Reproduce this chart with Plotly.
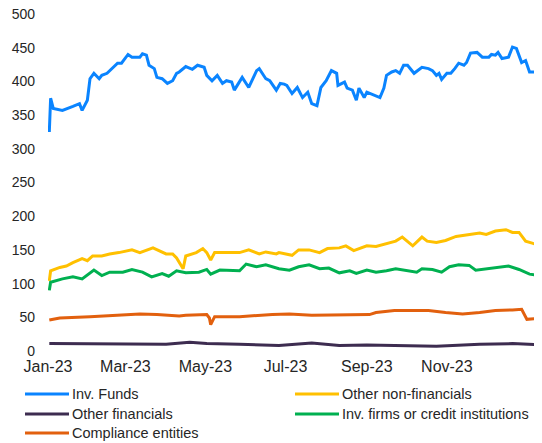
import plotly.graph_objects as go

# ---------------- data ----------------
inv_funds_dates = ["2023-01-02", "2023-01-03", "2023-01-05", "2023-01-12", "2023-01-20", "2023-01-25",
    "2023-01-27", "2023-01-31", "2023-02-02", "2023-02-05", "2023-02-09", "2023-02-11", "2023-02-15",
    "2023-02-18", "2023-02-23", "2023-02-26", "2023-03-03", "2023-03-06", "2023-03-12", "2023-03-14",
    "2023-03-17", "2023-03-19", "2023-03-23", "2023-03-25", "2023-03-29", "2023-04-02", "2023-04-06",
    "2023-04-09", "2023-04-11", "2023-04-16", "2023-04-21", "2023-04-25", "2023-04-30", "2023-05-02",
    "2023-05-06", "2023-05-10", "2023-05-14", "2023-05-17", "2023-05-21", "2023-05-23", "2023-05-27",
    "2023-05-29", "2023-06-03", "2023-06-09", "2023-06-11", "2023-06-16", "2023-06-19", "2023-06-24",
    "2023-06-27", "2023-06-30", "2023-07-02", "2023-07-06", "2023-07-10", "2023-07-14", "2023-07-18",
    "2023-07-21", "2023-07-25", "2023-07-28", "2023-08-01", "2023-08-05", "2023-08-09", "2023-08-10",
    "2023-08-15", "2023-08-17", "2023-08-21", "2023-08-24", "2023-08-26", "2023-08-30", "2023-09-01",
    "2023-09-07", "2023-09-11", "2023-09-14", "2023-09-16", "2023-09-20", "2023-09-23", "2023-09-26",
    "2023-09-29", "2023-10-02", "2023-10-07", "2023-10-13", "2023-10-18", "2023-10-21", "2023-10-24",
    "2023-10-26", "2023-10-28", "2023-11-01", "2023-11-04", "2023-11-07", "2023-11-10", "2023-11-14",
    "2023-11-16", "2023-11-19", "2023-11-24", "2023-11-28", "2023-12-03", "2023-12-05", "2023-12-08",
    "2023-12-10", "2023-12-13", "2023-12-18", "2023-12-21", "2023-12-24", "2023-12-28", "2023-12-31",
    "2024-01-03", "2024-01-08", "2024-01-12"]
inv_funds = [325, 375, 360, 357, 363, 367,
    357, 372, 404, 412, 404, 409, 412,
    418, 427, 427, 440, 436, 436, 441,
    439, 424, 419, 406, 404, 397, 401,
    412, 414, 422, 418, 424, 421, 409,
    401, 409, 397, 401, 399, 387, 401,
    406, 391, 416, 419, 404, 401, 387,
    397, 396, 394, 382, 391, 376, 384,
    367, 364, 391, 401, 416, 412, 394,
    399, 390, 387, 372, 390, 376, 384,
    379, 376, 390, 409, 414, 416, 412,
    424, 424, 412, 421, 419, 416, 409,
    412, 403, 412, 412, 419, 427, 424,
    428, 442, 443, 436, 436, 440, 439,
    443, 434, 436, 451, 449, 428, 431,
    414, 414, 412]

other_nonfin_dates = ["2023-01-02", "2023-01-03", "2023-01-10", "2023-01-15", "2023-01-20", "2023-01-27",
    "2023-01-31", "2023-02-04", "2023-02-11", "2023-02-17", "2023-02-24", "2023-03-06", "2023-03-12",
    "2023-03-22", "2023-04-01", "2023-04-06", "2023-04-09", "2023-04-14", "2023-04-16", "2023-04-24",
    "2023-04-29", "2023-05-02", "2023-05-05", "2023-05-08", "2023-05-17", "2023-05-27", "2023-06-03",
    "2023-06-11", "2023-06-16", "2023-06-24", "2023-06-26", "2023-07-04", "2023-07-06", "2023-07-11",
    "2023-07-19", "2023-07-27", "2023-08-02", "2023-08-11", "2023-08-16", "2023-08-22", "2023-09-01",
    "2023-09-08", "2023-09-16", "2023-09-23", "2023-09-28", "2023-10-06", "2023-10-13", "2023-10-17",
    "2023-10-24", "2023-10-31", "2023-11-08", "2023-11-18", "2023-11-26", "2023-12-01", "2023-12-08",
    "2023-12-16", "2023-12-21", "2023-12-26", "2023-12-31", "2024-01-05", "2024-01-12"]
other_nonfin = [104, 119, 124, 126, 131, 137,
    134, 141, 141, 144, 146, 150, 146,
    153, 144, 144, 138, 122, 141, 146,
    152, 146, 135, 146, 146, 146, 150,
    144, 147, 144, 146, 143, 142, 150,
    150, 146, 152, 153, 156, 149, 156,
    155, 159, 163, 169, 156, 169, 163,
    161, 164, 170, 173, 175, 173, 178,
    180, 176, 176, 163, 160, 156]

other_fin_dates = ["2023-01-02", "2023-02-02", "2023-03-06", "2023-04-01", "2023-04-19", "2023-05-02",
    "2023-05-27", "2023-06-26", "2023-07-21", "2023-08-11", "2023-09-01", "2023-10-24", "2023-11-26",
    "2023-12-21", "2024-01-12"]
other_fin = [11, 11, 10, 10, 13, 11,
    10, 8, 12, 8, 9, 7, 10,
    11, 9]

inv_firms_dates = ["2023-01-02", "2023-01-03", "2023-01-12", "2023-01-20", "2023-01-27", "2023-02-02",
    "2023-02-05", "2023-02-11", "2023-02-17", "2023-02-27", "2023-03-06", "2023-03-14", "2023-03-21",
    "2023-03-29", "2023-04-03", "2023-04-09", "2023-04-16", "2023-04-26", "2023-05-02", "2023-05-05",
    "2023-05-12", "2023-05-27", "2023-06-01", "2023-06-09", "2023-06-16", "2023-06-26", "2023-07-04",
    "2023-07-11", "2023-07-19", "2023-07-27", "2023-08-03", "2023-08-11", "2023-08-19", "2023-08-24",
    "2023-09-01", "2023-09-08", "2023-09-16", "2023-09-23", "2023-10-01", "2023-10-09", "2023-10-13",
    "2023-10-21", "2023-10-28", "2023-11-03", "2023-11-10", "2023-11-18", "2023-11-23", "2023-12-01",
    "2023-12-11", "2023-12-18", "2023-12-26", "2024-01-03", "2024-01-12"]
inv_firms = [90, 102, 107, 110, 107, 115,
    120, 112, 117, 117, 121, 117, 110,
    115, 111, 119, 116, 117, 121, 114,
    120, 119, 129, 125, 128, 122, 120,
    125, 128, 122, 123, 116, 119, 115,
    120, 117, 119, 122, 120, 117, 122,
    121, 117, 125, 128, 127, 120, 122,
    125, 126, 121, 114, 112]

compliance_dates = ["2023-01-02", "2023-01-10", "2023-02-02", "2023-02-27", "2023-03-12", "2023-03-25",
    "2023-04-11", "2023-04-16", "2023-05-02", "2023-05-04", "2023-05-05", "2023-05-08", "2023-05-27",
    "2023-06-21", "2023-06-26", "2023-07-04", "2023-07-21", "2023-08-16", "2023-09-03", "2023-09-08",
    "2023-09-22", "2023-10-06", "2023-10-18", "2023-10-31", "2023-11-13", "2023-11-26", "2023-12-08",
    "2023-12-21", "2023-12-28", "2024-01-01", "2024-01-12"]
compliance = [46, 49, 51, 54, 55, 54,
    52, 53, 54, 49, 39, 51, 51,
    54, 54, 55, 53, 54, 54, 57,
    60, 60, 60, 57, 55, 57, 60,
    61, 62, 47, 49]

x_tick_vals = ["2023-01-01", "2023-03-01", "2023-05-01", "2023-07-01", "2023-09-01", "2023-11-01"]
x_tick_text = ["Jan-23", "Mar-23", "May-23", "Jul-23", "Sep-23", "Nov-23"]
y_tick_vals = [0, 50, 100, 150, 200, 250, 300, 350, 400, 450, 500]

# ---------------- figure ----------------
series = [
    ("Inv. Funds", inv_funds_dates, inv_funds, "#0A84FF"),
    ("Other non-financials", other_nonfin_dates, other_nonfin, "#FFC000"),
    ("Other financials", other_fin_dates, other_fin, "#3D2C50"),
    ("Inv. firms or credit institutions", inv_firms_dates, inv_firms, "#00B050"),
    ("Compliance entities", compliance_dates, compliance, "#E2600E"),
]

# the page body has an 8px margin, so the figure is sized to end at the window edge
W, H = 534, 435
ML, MR, MT, MB = 40, 0, 6, 92
PW, PH = W - ML - MR, H - MT - MB

fig = go.Figure()
for name, xs, ys, col in series:
    fig.add_trace(go.Scatter(x=xs, y=ys, name=name, mode="lines",
                             line=dict(color=col, width=3), showlegend=False))

# legend drawn as swatches + text below the plot (two columns), positions in figure pixels
legend_cols_px = [17, 287]          # left edge of swatch
legend_rows_px = [386, 406, 425]    # vertical centre of rows
swatch_len = 44
shapes, annotations = [], []
for i, (name, _, _, col) in enumerate(series):
    cx = legend_cols_px[i % 2]
    cy = legend_rows_px[i // 2]
    x0 = (cx - ML) / PW
    x1 = (cx + swatch_len - ML) / PW
    yp = (H - MB - cy) / PH
    shapes.append(dict(type="line", xref="paper", yref="paper", x0=x0, x1=x1, y0=yp, y1=yp,
                       line=dict(color=col, width=3)))
    annotations.append(dict(xref="paper", yref="paper", x=(cx + swatch_len + 1 - ML) / PW, y=yp,
                            xanchor="left", yanchor="middle", showarrow=False, text=name,
                            font=dict(size=14.5, color="#262626")))

font_family = "Liberation Sans, Arial, sans-serif"
fig.update_layout(
    width=W, height=H,
    margin=dict(l=ML, r=MR, t=MT, b=MB, autoexpand=False),
    paper_bgcolor="white", plot_bgcolor="white",
    font=dict(family=font_family, color="#262626"),
    showlegend=False,
    shapes=shapes, annotations=annotations,
    xaxis=dict(type="date", range=["2023-01-01", "2024-01-12 12:00"],
               tickvals=x_tick_vals, ticktext=x_tick_text, tickangle=0,
               showgrid=False, zeroline=False, showline=False, ticks="",
               tickfont=dict(size=16), ticklabelstandoff=4),
    yaxis=dict(range=[0, 500], tickvals=y_tick_vals,
               showgrid=False, zeroline=False, showline=False, ticks="",
               tickfont=dict(size=14), ticklabelstandoff=12,
               ticklabeloverflow="allow"),
)

fig.write_html("out.html")
